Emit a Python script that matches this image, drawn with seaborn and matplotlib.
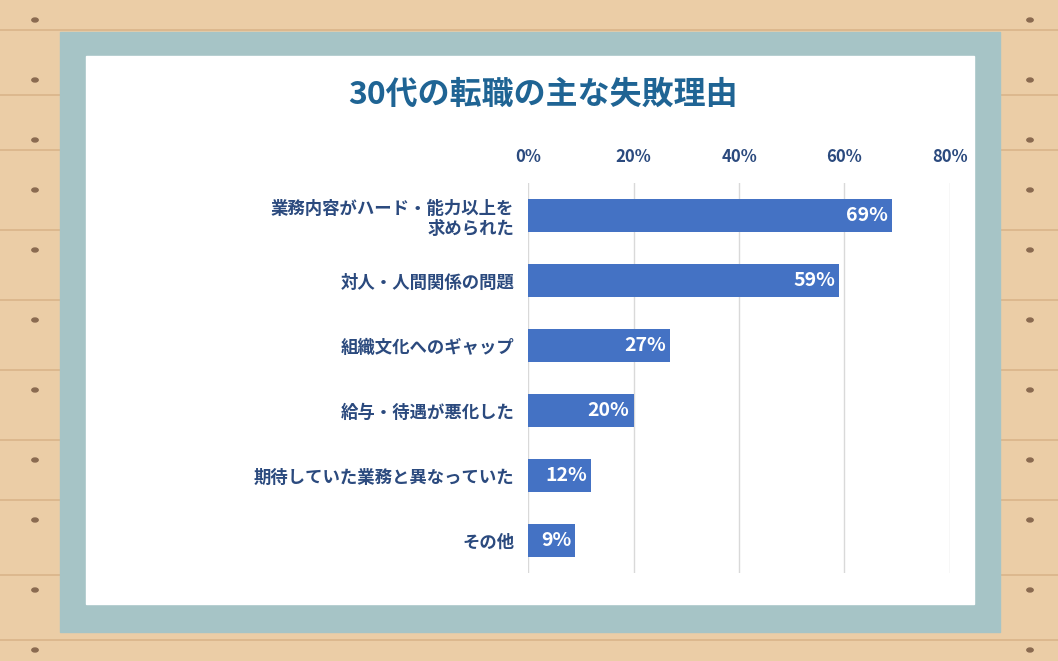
import matplotlib
matplotlib.use("Agg")
import matplotlib.pyplot as plt
import seaborn as sns
import pandas as pd
from matplotlib.patches import Rectangle

plt.rcParams["font.family"] = "Noto Sans CJK JP"

# data
reasons = ["業務内容がハード・能力以上を\n求められた", "対人・人間関係の問題", "組織文化へのギャップ",
           "給与・待遇が悪化した", "期待していた業務と異なっていた", "その他"]
shares = [69, 59, 27, 20, 12, 9]
ticks = [0, 20, 40, 60, 80]
df = pd.DataFrame({"reason": reasons, "share": shares})

W, H = 1058, 661
fig = plt.figure(figsize=(W / 100, H / 100), dpi=100)
fig.patch.set_facecolor("#EBCDA6")

# wooden planks background
for y in [30, 95, 150, 230, 300, 370, 440, 500, 575, 640]:
    fig.add_artist(plt.Line2D([0, 1], [1 - y / H, 1 - y / H], color="#D9B48A", lw=1.2, zorder=-5))
for y in [20, 80, 140, 190, 250, 320, 390, 460, 520, 590, 650]:
    for x in [35, 1030]:
        fig.add_artist(plt.Circle((x / W, 1 - y / H), 0.003, color="#8A6A50",
                                  transform=fig.transFigure, zorder=-5))

# frame and panel
fig.add_artist(Rectangle((60 / W, 1 - 632 / H), 940 / W, 600 / H, color="#A6C4C6",
                         transform=fig.transFigure, zorder=-4))
fig.add_artist(Rectangle((86 / W, 1 - 604 / H), 888 / W, 548 / H, color="white",
                         transform=fig.transFigure, zorder=-3))

fig.text(543 / W, 1 - 95 / H, "30代の転職の主な失敗理由", ha="center", va="center",
         fontsize=23, fontweight="bold", color="#1F6494")

ax = fig.add_axes([528 / W, 1 - 573 / H, 422 / W, 390 / H])
ax.set_facecolor("none")
sns.barplot(data=df, x="share", y="reason", color="#4472C4", saturation=1, width=0.52, ax=ax)
ax.set_xlim(0, 80)
ax.set_xticks(ticks)
ax.set_xticklabels([f"{t}%" for t in ticks], fontsize=12, fontweight="bold", color="#2B4A7E")
ax.xaxis.tick_top()
ax.tick_params(axis="x", length=0, pad=12)
ax.tick_params(axis="y", length=0, pad=10, labelsize=12.5, labelcolor="#2B4A7E")
for lbl in ax.get_yticklabels():
    lbl.set_fontweight("bold")
    lbl.set_ha("right")
    lbl.set_multialignment("right")
ax.grid(axis="x", color="#D9D9D9", lw=1)
ax.set_axisbelow(True)
for s in ax.spines.values():
    s.set_visible(False)
ax.set_xlabel("")
ax.set_ylabel("")
for i, v in enumerate(shares):
    ax.text(v - 0.8, i, f"{v}%", ha="right", va="center", color="white", fontsize=14, fontweight="bold")

fig.savefig("out.png", dpi=100)
